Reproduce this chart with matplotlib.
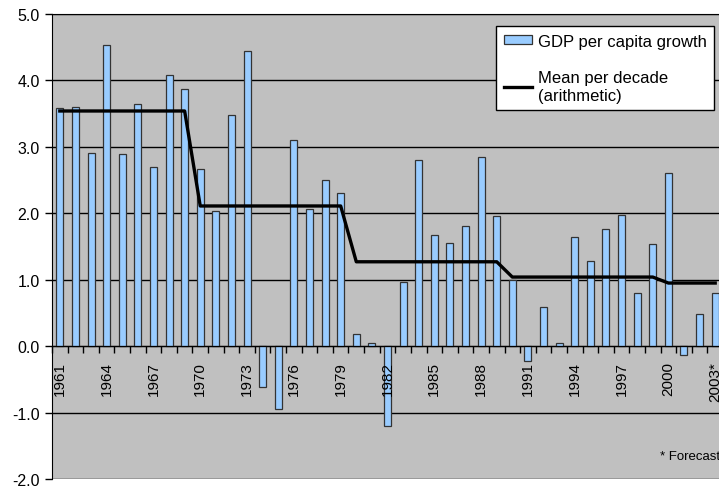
import matplotlib.pyplot as plt
import numpy as np

plt.rcParams['font.family'] = ['Liberation Sans', 'DejaVu Sans']

# data
years = list(range(1961, 2004))
growth = [3.59, 3.60, 2.91, 4.54, 2.90, 3.65, 2.69, 4.08, 3.87,
          2.66, 2.03, 3.48, 4.45, -0.61, -0.95, 3.10, 2.06, 2.50, 2.30,
          0.19, 0.04, -1.20, 0.97, 2.80, 1.67, 1.56, 1.81, 2.85, 1.96,
          1.00, -0.22, 0.59, 0.04, 1.64, 1.28, 1.77, 1.98, 0.80, 1.54,
          2.60, -0.13, 0.48, 0.80]
decade_start = [1961, 1970, 1980, 1990, 2000]
decade_mean = [3.54, 2.11, 1.27, 1.04, 0.95]

labels = [str(y) for y in years]
labels[-1] = '2003*'

# mean line, one point per year
mean_line = []
for y in years:
    k = max(i for i, s in enumerate(decade_start) if y >= s)
    mean_line.append(decade_mean[k])

fig = plt.figure(figsize=(7.19, 4.89), dpi=100)
ax = fig.add_axes([52 / 719, 1 - 480 / 489, 671 / 719, 465 / 489])
ax.set_facecolor('#C0C0C0')

x = np.arange(len(years))
bars = ax.bar(x, growth, width=0.45, color='#99CCFF', edgecolor='#333333',
              linewidth=0.9, label='GDP per capita growth', zorder=2)
line, = ax.plot(x, mean_line, color='black', linewidth=2.4,
                label='Mean per decade\n(arithmetic)', zorder=2.2)

ax.set_xlim(-0.5, len(years) - 0.5)
ax.set_ylim(-2, 5)
yt = np.arange(-2, 5.1, 1)
ax.set_yticks(yt)
ax.set_yticklabels([f'{v:.1f}' for v in yt], fontsize=11.5)
ax.yaxis.grid(True, color='black', linewidth=1.0)
ax.yaxis.set_zorder(0.5)
ax.tick_params(axis='y', length=5, width=1, pad=4)

# x axis sitting on zero, labels drawn over the bars
ax.spines['bottom'].set_position(('data', 0))
ax.spines['bottom'].set_zorder(5)
ax.spines['right'].set_visible(False)
ax.xaxis.set_zorder(3)
ax.set_xticks(x[::3])
ax.set_xticklabels(labels[::3], rotation=90, fontsize=11, va='top')
ax.tick_params(axis='x', which='major', length=0, pad=10.5)
ax.set_xticks(np.arange(-0.5, len(years), 1), minor=True)
ax.tick_params(axis='x', which='minor', length=5, direction='out', width=1)

ax.legend([bars, line], ['GDP per capita growth', 'Mean per decade\n(arithmetic)'],
          loc='upper left', bbox_to_anchor=(496 / 719, 1 - 27 / 489),
          bbox_transform=fig.transFigure, fancybox=False, framealpha=1,
          edgecolor='black', fontsize=12, handlelength=1.7, handleheight=0.5,
          borderaxespad=0, borderpad=0.45, labelspacing=1.3, handletextpad=0.35)

fig.text(660 / 719, 1 - 457 / 489, '* Forecast', fontsize=9.5, va='center')

plt.savefig('out.png', dpi=100)
